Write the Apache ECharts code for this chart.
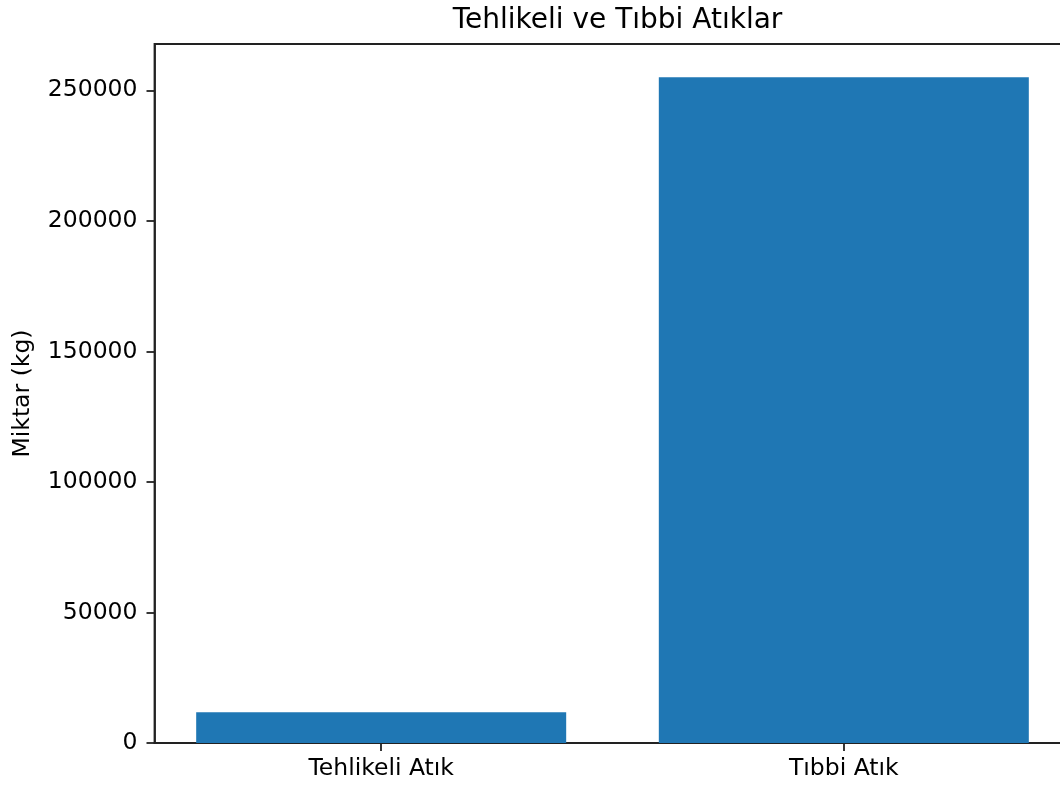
<!DOCTYPE html>
<html>
<head>
<meta charset="utf-8">
<script src="https://cdn.jsdelivr.net/npm/echarts@6/dist/echarts.min.js"></script>
<style>html,body{margin:0;padding:0;background:#fff}#c{width:1060px;height:789px}</style>
</head>
<body>
<div id="c"></div>
<script>
const categories = ["Tehlikeli Atık", "Tıbbi Atık"];
const values = [11800, 255000];
const yTicks = [0, 50000, 100000, 150000, 200000, 250000];
const xTicks = [0, 1];

const chart = echarts.init(document.getElementById('c'), null, {renderer: 'canvas'});
const font = 'DejaVu Sans';
const ink = '#000';
chart.setOption({
  animation: false,
  backgroundColor: '#fff',
  title: {
    text: 'Tehlikeli ve Tıbbi Atıklar',
    left: 612.5, textAlign: 'center', top: 2,
    textStyle: {fontFamily: font, fontSize: 28, fontWeight: 'normal', color: ink}
  },
  grid: {left: 154.5, top: 44, width: 916, height: 699, show: true, borderColor: '#222', borderWidth: 1.8,
    backgroundColor: 'transparent', containLabel: false, outerBoundsMode: 'none'},
  xAxis: {
    type: 'value', min: -0.49, max: 1.49,
    axisLine: {show: true, onZero: false, lineStyle: {color: '#222', width: 1.8}},
    splitLine: {show: false},
    axisTick: {show: true, customValues: xTicks, length: 8, lineStyle: {color: '#222', width: 1.8}},
    axisLabel: {customValues: xTicks, margin: 14, fontFamily: font, fontSize: 23.5, color: ink,
      formatter: v => categories[Math.round(v)] || ''}
  },
  yAxis: {
    type: 'value', min: 0, max: 267750,
    name: 'Miktar (kg)', nameLocation: 'middle', nameRotate: 90, nameGap: 120,
    nameTextStyle: {fontFamily: font, fontSize: 23.5, color: ink},
    axisLine: {show: true, onZero: false, lineStyle: {color: '#222', width: 1.8}},
    splitLine: {show: false},
    axisTick: {show: true, customValues: yTicks, length: 8, lineStyle: {color: '#222', width: 1.8}},
    axisLabel: {customValues: yTicks, margin: 17, fontFamily: font, fontSize: 23.5, color: ink,
      formatter: v => String(v)}
  },
  series: [{
    type: 'bar',
    data: values.map((v, i) => [xTicks[i], v]),
    barWidth: 370,
    itemStyle: {color: '#1f77b4'}
  }]
});
</script>
</body>
</html>
